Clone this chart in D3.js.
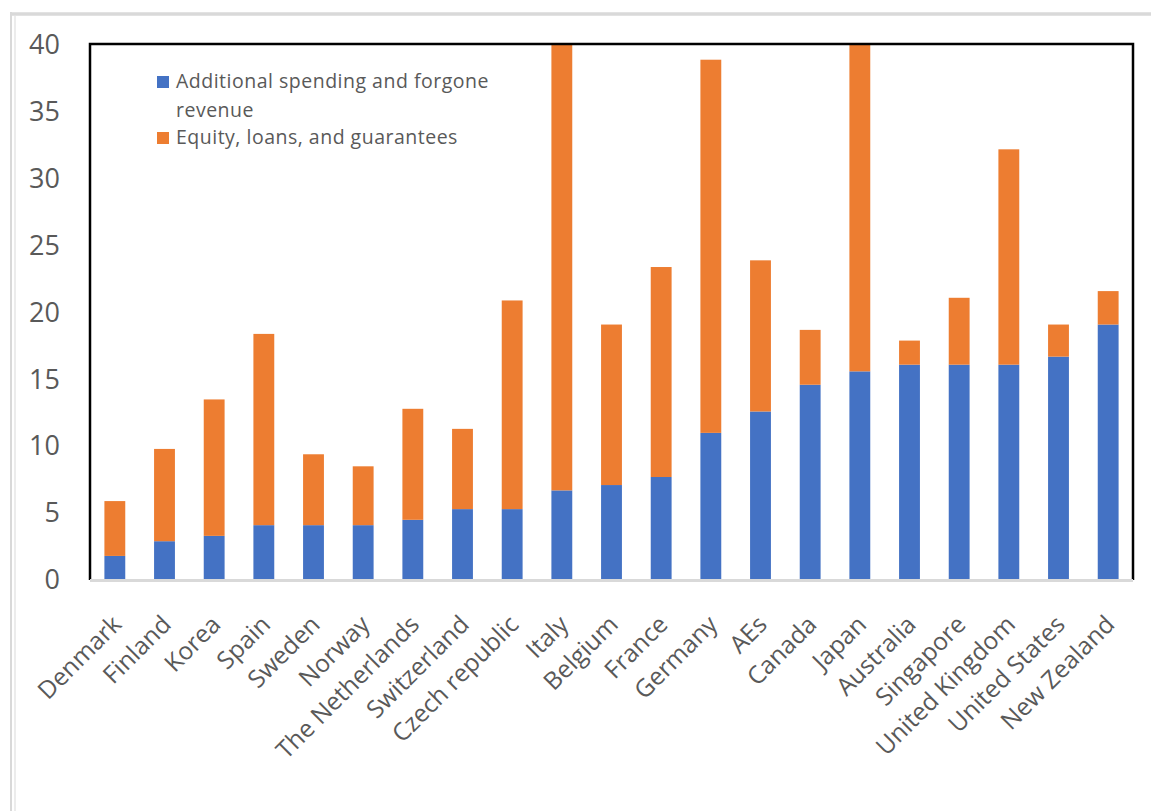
<!DOCTYPE html>
<html>
<head>
<meta charset="utf-8">
<script src="https://cdn.jsdelivr.net/npm/d3@7"></script>
<style>
  body { margin: 0; background: #fff; }
  text { font-family: "Open Sans", sans-serif; fill: #595959; }
</style>
</head>
<body>
<div id="chart"></div>
<script>
var categories = ["Denmark", "Finland", "Korea", "Spain", "Sweden", "Norway", "The Netherlands",
  "Switzerland", "Czech republic", "Italy", "Belgium", "France", "Germany", "AEs", "Canada",
  "Japan", "Australia", "Singapore", "United Kingdom", "United States", "New Zealand"];
// Additional spending and forgone revenue
var spending = [1.8, 2.9, 3.3, 4.1, 4.1, 4.1, 4.5, 5.3, 5.3, 6.7, 7.1, 7.7, 11.0, 12.6, 14.6,
  15.6, 16.1, 16.1, 16.1, 16.7, 19.1];
// Equity, loans, and guarantees
var equity = [4.1, 6.9, 10.2, 14.3, 5.3, 4.4, 8.3, 6.0, 15.6, 33.3, 12.0, 15.7, 27.9, 11.3, 4.1,
  24.4, 1.8, 5.0, 16.1, 2.4, 2.5];
var seriesNames = ["Additional spending and forgone revenue", "Equity, loans, and guarantees"];
var seriesColors = ["#4472C4", "#ED7D31"];
var yTicks = [0, 5, 10, 15, 20, 25, 30, 35, 40];

var W = 1151, H = 811;
var margin = {left: 90, right: 18, top: 45, bottom: 231};

var svg = d3.select("#chart").append("svg")
    .attr("width", W)
    .attr("height", H);

// outer light frame
svg.append("line").attr("x1", 10).attr("x2", W).attr("y1", 14).attr("y2", 14)
    .style("stroke", "#d9d9d9").style("stroke-width", 3.5);
svg.append("line").attr("x1", 11).attr("x2", 11).attr("y1", 12).attr("y2", H)
    .style("stroke", "#d9d9d9").style("stroke-width", 2);
svg.append("line").attr("x1", 15).attr("x2", 15).attr("y1", 16).attr("y2", H)
    .style("stroke", "#e6e6e6").style("stroke-width", 1.5);

var x = d3.scaleBand()
    .domain(categories)
    .range([margin.left, W - margin.right])
    .paddingInner(0.58)
    .paddingOuter(0.29);

var y = d3.scaleLinear()
    .domain([0, 40])
    .range([H - margin.bottom, margin.top]);

var data = categories.map(function(c, i) {
  return {name: c, spending: spending[i], equity: equity[i]};
});
var stack = d3.stack().keys(["spending", "equity"])(data);

svg.append("clipPath").attr("id", "plotclip")
  .append("rect")
    .attr("x", margin.left).attr("y", y(40))
    .attr("width", W - margin.right - margin.left)
    .attr("height", y(0) - y(40));

var layers = svg.append("g").attr("clip-path", "url(#plotclip)")
  .selectAll("g.layer")
    .data(stack)
  .enter().append("g")
    .attr("class", "layer")
    .style("fill", function(d, i) { return seriesColors[i]; });

layers.selectAll("rect")
    .data(function(d) { return d; })
  .enter().append("rect")
    .attr("x", function(d) { return x(d.data.name); })
    .attr("width", x.bandwidth())
    .attr("y", function(d) { return y(d[1]); })
    .attr("height", function(d) { return y(d[0]) - y(d[1]); });

// plot frame (black) with grey category axis
svg.append("path")
    .attr("d", "M" + margin.left + "," + y(0) + "V" + (y(40) - 1) + "H" + (W - margin.right) + "V" + y(0))
    .style("fill", "none")
    .style("stroke", "#000")
    .style("stroke-width", 2.5);
svg.append("line")
    .attr("x1", margin.left).attr("x2", W - margin.right)
    .attr("y1", y(0) + 0.5).attr("y2", y(0) + 0.5)
    .style("stroke", "#d9d9d9")
    .style("stroke-width", 3);

// y axis labels
var yAxis = d3.axisLeft(y).tickValues(yTicks).tickSize(0).tickPadding(0);
var gy = svg.append("g")
    .attr("transform", "translate(60,0)")
    .call(yAxis);
gy.select(".domain").remove();
gy.selectAll("text")
    .style("font-size", "27px")
    .style("fill", "#595959")
    .style("font-family", "'Open Sans', sans-serif");

// x axis labels
var xAxis = d3.axisBottom(x).tickSize(0).tickPadding(0);
var gx = svg.append("g")
    .attr("transform", "translate(0," + y(0) + ")")
    .call(xAxis);
gx.select(".domain").remove();
gx.selectAll("text")
    .attr("text-anchor", "end")
    .attr("dy", null)
    .attr("y", 0)
    .attr("transform", "translate(8,46) rotate(-45)")
    .style("font-size", "24.5px")
    .style("fill", "#595959")
    .style("font-family", "'Open Sans', sans-serif");

// legend
var legend = svg.append("g").attr("transform", "translate(157,0)");
var legendLines = [["Additional spending and forgone", "revenue"], ["Equity, loans, and guarantees"]];
var legendTop = [76, 132];
legendLines.forEach(function(lines, i) {
  legend.append("rect")
      .attr("x", 0).attr("y", legendTop[i])
      .attr("width", 12).attr("height", 12)
      .style("fill", seriesColors[i]);
  var t = legend.append("text")
      .attr("x", 19).attr("y", legendTop[i] + 12)
      .style("font-size", "19.5px")
      .style("letter-spacing", "0.5px");
  lines.forEach(function(l, j) {
    t.append("tspan").attr("x", 19).attr("dy", j === 0 ? 0 : 29).text(l);
  });
});
</script>
</body>
</html>
